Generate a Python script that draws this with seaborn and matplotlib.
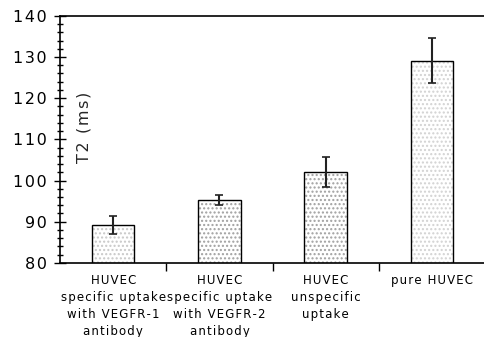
import matplotlib
matplotlib.use("Agg")
import matplotlib.pyplot as plt
import matplotlib.colors as mcolors
from matplotlib.ticker import MultipleLocator, FixedLocator, FuncFormatter
import seaborn as sns
import pandas as pd

# data
groups = ["HUVEC\nspecific uptake\nwith VEGFR-1\nantibody",
          "HUVEC\nspecific uptake\nwith VEGFR-2\nantibody",
          "HUVEC\nunspecific\nuptake",
          "pure HUVEC"]
t2 = [89.3, 95.3, 102.1, 129.1]
t2_err = [2.2, 1.3, 3.6, 5.5]
dot_colors = ["#c8c8c8", "#a0a0a0", "#a0a0a0", "#d2d2d2"]

sns.set_style("ticks")
plt.rcParams['font.family'] = ['DejaVu Sans']
plt.rcParams['hatch.linewidth'] = 1.0


def spaced(s):
    # wide letter spacing like the original Verdana labels
    return "\n".join("\u200a".join(line) for line in s.split("\n"))


df = pd.DataFrame({"group": groups, "t2": t2})

fig = plt.figure(figsize=(4.85, 3.37), dpi=100)
ax = fig.add_axes([0.124, 0.22, 0.876, 0.733])

sns.barplot(data=df, x="group", y="t2", color="white", width=0.4,
            edgecolor="black", linewidth=1.0, ax=ax)
for p, c in zip(ax.patches, dot_colors):
    p.set_hatch("....")
    p._hatch_color = mcolors.to_rgba(c)
    p.set_zorder(2)

ax.errorbar(range(len(t2)), t2, yerr=t2_err, fmt="none", ecolor="#222222",
            elinewidth=1.5, capsize=3, capthick=1.2, zorder=3)

ax.set_ylim(80, 140)
ax.set_xlim(-0.5, 3.5)
ax.yaxis.set_major_locator(MultipleLocator(10))
ax.yaxis.set_minor_locator(MultipleLocator(2))
ax.yaxis.set_major_formatter(FuncFormatter(lambda v, pos: spaced(f"{v:.0f}")))
ax.tick_params(axis="y", which="major", direction="inout", length=9, width=1,
               labelsize=11.5, pad=5, labelcolor="black", color="black")
ax.tick_params(axis="y", which="minor", direction="inout", length=5, width=1,
               color="black")

ax.xaxis.set_minor_locator(FixedLocator([0.5, 1.5, 2.5]))
ax.set_xticks(range(len(groups)))
ax.set_xticklabels([spaced(g) for g in groups])
ax.tick_params(axis="x", which="major", length=0, labelsize=8.5, pad=8,
               labelcolor="black")
ax.tick_params(axis="x", which="minor", direction="out", length=6, width=1,
               color="black")
for lbl in ax.get_xticklabels():
    lbl.set_verticalalignment("top")
    lbl.set_linespacing(1.4)

ax.set_xlabel("")
ax.set_ylabel("")
ax.text(0.055, 0.55, spaced("T2 (ms)"), transform=ax.transAxes, rotation=90,
        ha="center", va="center", fontsize=11.5)

for s in ["left", "bottom", "top"]:
    ax.spines[s].set_visible(True)
    ax.spines[s].set_linewidth(1.2)
    ax.spines[s].set_color("black")
ax.spines["right"].set_visible(False)

fig.savefig("out.png", dpi=100)
